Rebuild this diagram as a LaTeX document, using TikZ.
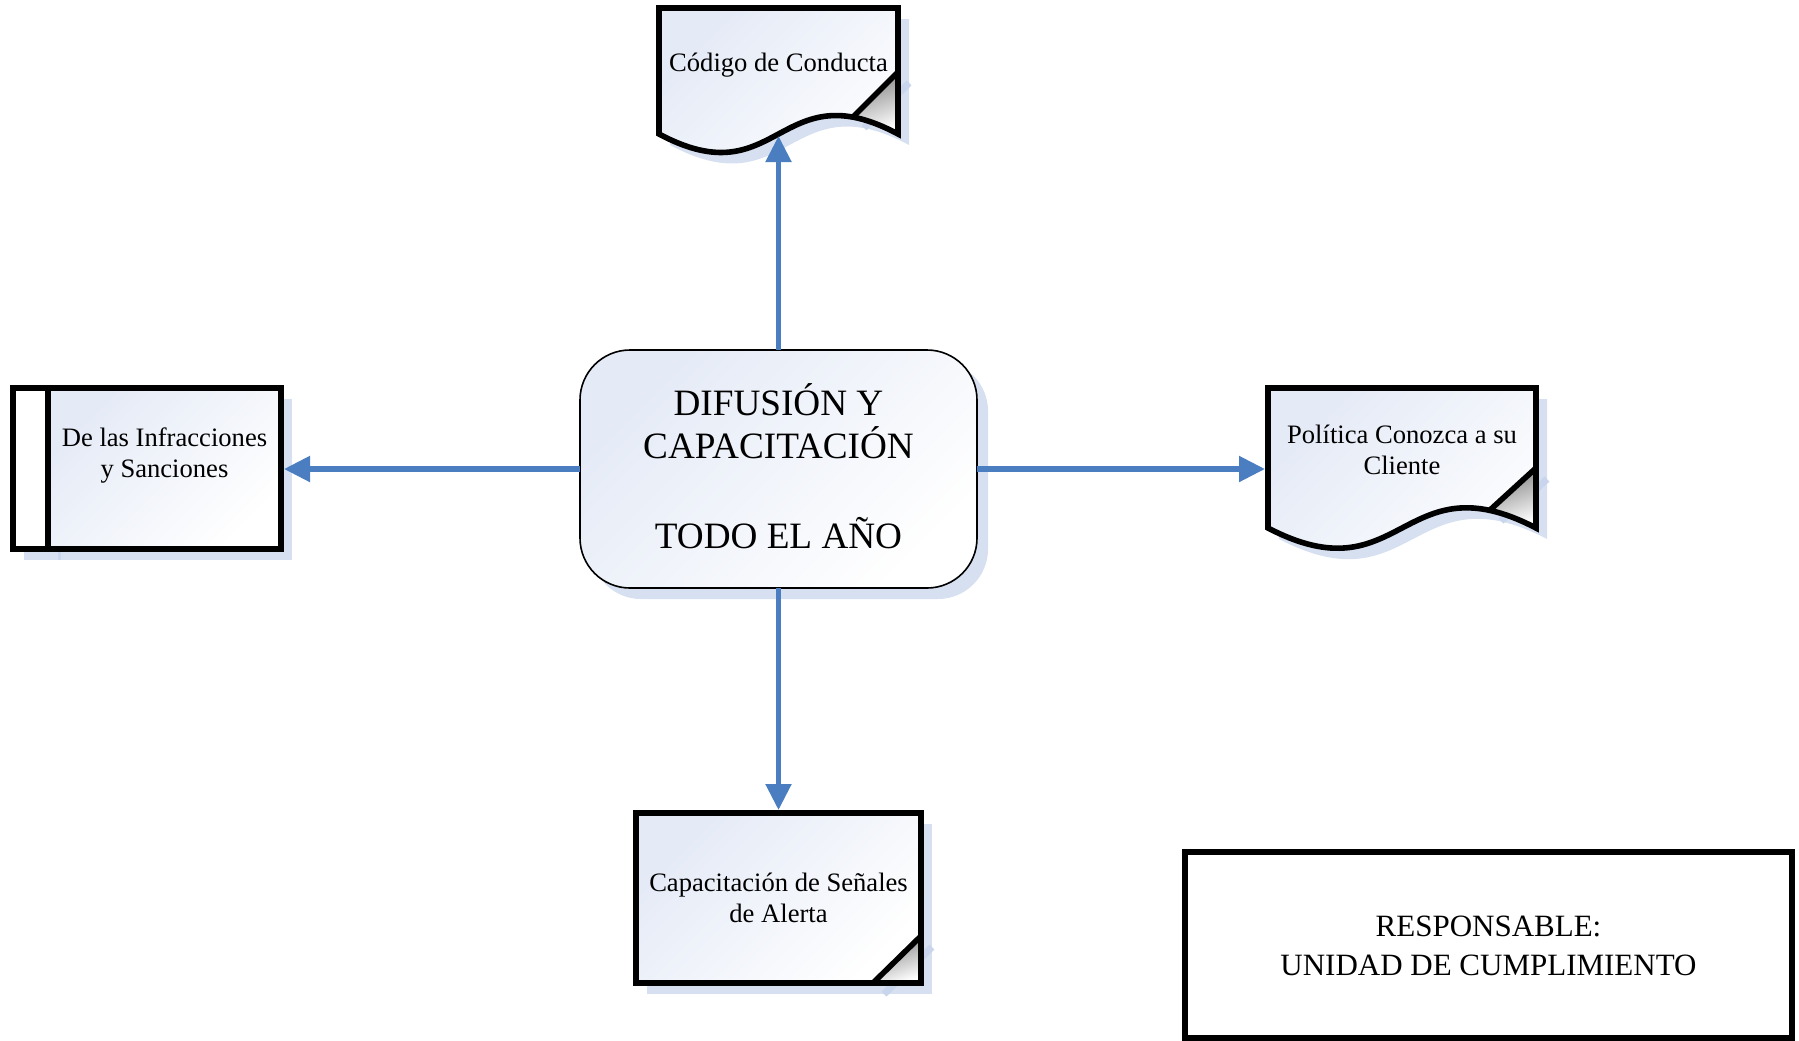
\documentclass[tikz,border=0pt]{standalone}
\usepackage{fontspec}
\setmainfont{Liberation Serif}
\usetikzlibrary{arrows.meta}

\definecolor{flowblue}{RGB}{74,126,193}
\definecolor{dropshade}{RGB}{214,224,241}
\definecolor{foldshade}{RGB}{200,213,236}
\definecolor{papertint}{RGB}{228,234,246}

\begin{document}
\begin{tikzpicture}[x=0.5pt,y=-0.5pt,
  outline/.style={draw=black, line width=2.8pt, line join=miter},
  paper/.style={top color=papertint, bottom color=white, shading angle=45},
  dropfill/.style={fill=dropshade},
  foldline/.style={draw=foldshade, line width=3.5pt},
  curl/.style={top color=black!50, bottom color=white, shading angle=20},
  flow/.style={draw=flowblue, line width=2.6pt, -{Triangle[length=13pt,width=12.5pt]}},
  smalltext/.style={anchor=base, align=center, inner sep=0pt, font=\fontsize{13.3pt}{15.5pt}\selectfont},
  bigtext/.style={anchor=base, align=center, inner sep=0pt, font=\fontsize{18.6pt}{21.5pt}\selectfont},
  midtext/.style={anchor=base, align=center, inner sep=0pt, font=\fontsize{15.5pt}{19.5pt}\selectfont}
]
\useasboundingbox (0,0) rectangle (1799,1040);

% ---------- drop shadows ----------
\begin{scope}[shift={(11,11)}]
  % Codigo de Conducta
  \fill[dropfill] (659,8) -- (898,8) -- (898,134)
     .. controls (778.5,70) and (778.5,198) .. (659,134) -- cycle;
  \draw[foldline] (898,72) -- (853,117);
  % Politica Conozca a su Cliente
  \fill[dropfill] (1268,388) -- (1536,388) -- (1536,528)
     .. controls (1402,458) and (1402,598) .. (1268,528) -- cycle;
  \draw[foldline] (1536,468) -- (1490,510);
  % Infracciones
  \fill[dropfill] (13,388) rectangle (281,549);
  \draw[foldshade, line width=1.5pt] (48,388) -- (48,549);
  % Senales de alerta
  \fill[dropfill] (636,813) rectangle (921,983);
  \draw[foldline] (921,936) -- (873,983);
  % central box
  \fill[dropfill, rounded corners=25pt] (580,350) rectangle (977,588);
\end{scope}

% ---------- central box ----------
\shade[paper, rounded corners=25pt] (580,350) rectangle (977,588);
\draw[black, line width=0.8pt, rounded corners=25pt] (580,350) rectangle (977,588);
\node[bigtext] (hub) at (778.5,548) {DIFUSIÓN Y\\CAPACITACIÓN\\[23.5pt]TODO EL AÑO};
\coordinate (hub-n) at (778.5,350);
\coordinate (hub-s) at (778.5,588);
\coordinate (hub-w) at (580,469);
\coordinate (hub-e) at (977,469);

% ---------- Codigo de Conducta (document) ----------
\shade[paper] (659,8) -- (898,8) -- (898,134)
   .. controls (778.5,70) and (778.5,198) .. (659,134) -- cycle;
\shade[curl] (898,72) -- (853,117) -- (898,134) -- cycle;
\draw[outline] (659,8) -- (898,8) -- (898,134)
   .. controls (778.5,70) and (778.5,198) .. (659,134) -- cycle;
\draw[outline] (898,72) -- (853,117);
\node[smalltext] (codigo) at (778.5,71) {Código de Conducta};
\coordinate (codigo-in) at (778.5,136);

% ---------- Politica Conozca a su Cliente (document) ----------
\shade[paper] (1268,388) -- (1536,388) -- (1536,528)
   .. controls (1402,458) and (1402,598) .. (1268,528) -- cycle;
\shade[curl] (1536,468) -- (1490,510) -- (1536,528) -- cycle;
\draw[outline] (1268,388) -- (1536,388) -- (1536,528)
   .. controls (1402,458) and (1402,598) .. (1268,528) -- cycle;
\draw[outline] (1536,468) -- (1490,510);
\node[smalltext] (politica) at (1402,474) {Política Conozca a su\\Cliente};
\coordinate (politica-in) at (1265,469);

% ---------- De las Infracciones y Sanciones (predefined process) ----------
\fill[white] (13,388) rectangle (48,549);
\shade[paper] (48,388) rectangle (281,549);
\draw[outline] (13,388) rectangle (281,549);
\draw[outline] (48,388) -- (48,549);
\node[smalltext] (infracciones) at (164.5,477) {De las Infracciones\\y Sanciones};
\coordinate (infracciones-in) at (284,469);

% ---------- Capacitacion de Senales de Alerta (card) ----------
\shade[paper] (636,813) rectangle (921,983);
\shade[curl] (921,936) -- (873,983) -- (921,983) -- cycle;
\draw[outline] (636,813) rectangle (921,983);
\draw[outline] (921,936) -- (873,983);
\node[smalltext] (senales) at (778.5,922) {Capacitación de Señales\\de Alerta};
\coordinate (senales-in) at (778.5,810);

% ---------- Responsable ----------
\draw[black, line width=2.6pt, fill=white] (1185,852) rectangle (1792,1038);
\node[midtext] (responsable) at (1488.5,975) {RESPONSABLE:\\UNIDAD DE CUMPLIMIENTO};

% ---------- connectors ----------
\draw[flow] (hub-n) -- (codigo-in);
\draw[flow] (hub-w) -- (infracciones-in);
\draw[flow] (hub-e) -- (politica-in);
\draw[flow] (hub-s) -- (senales-in);
\end{tikzpicture}
\end{document}
